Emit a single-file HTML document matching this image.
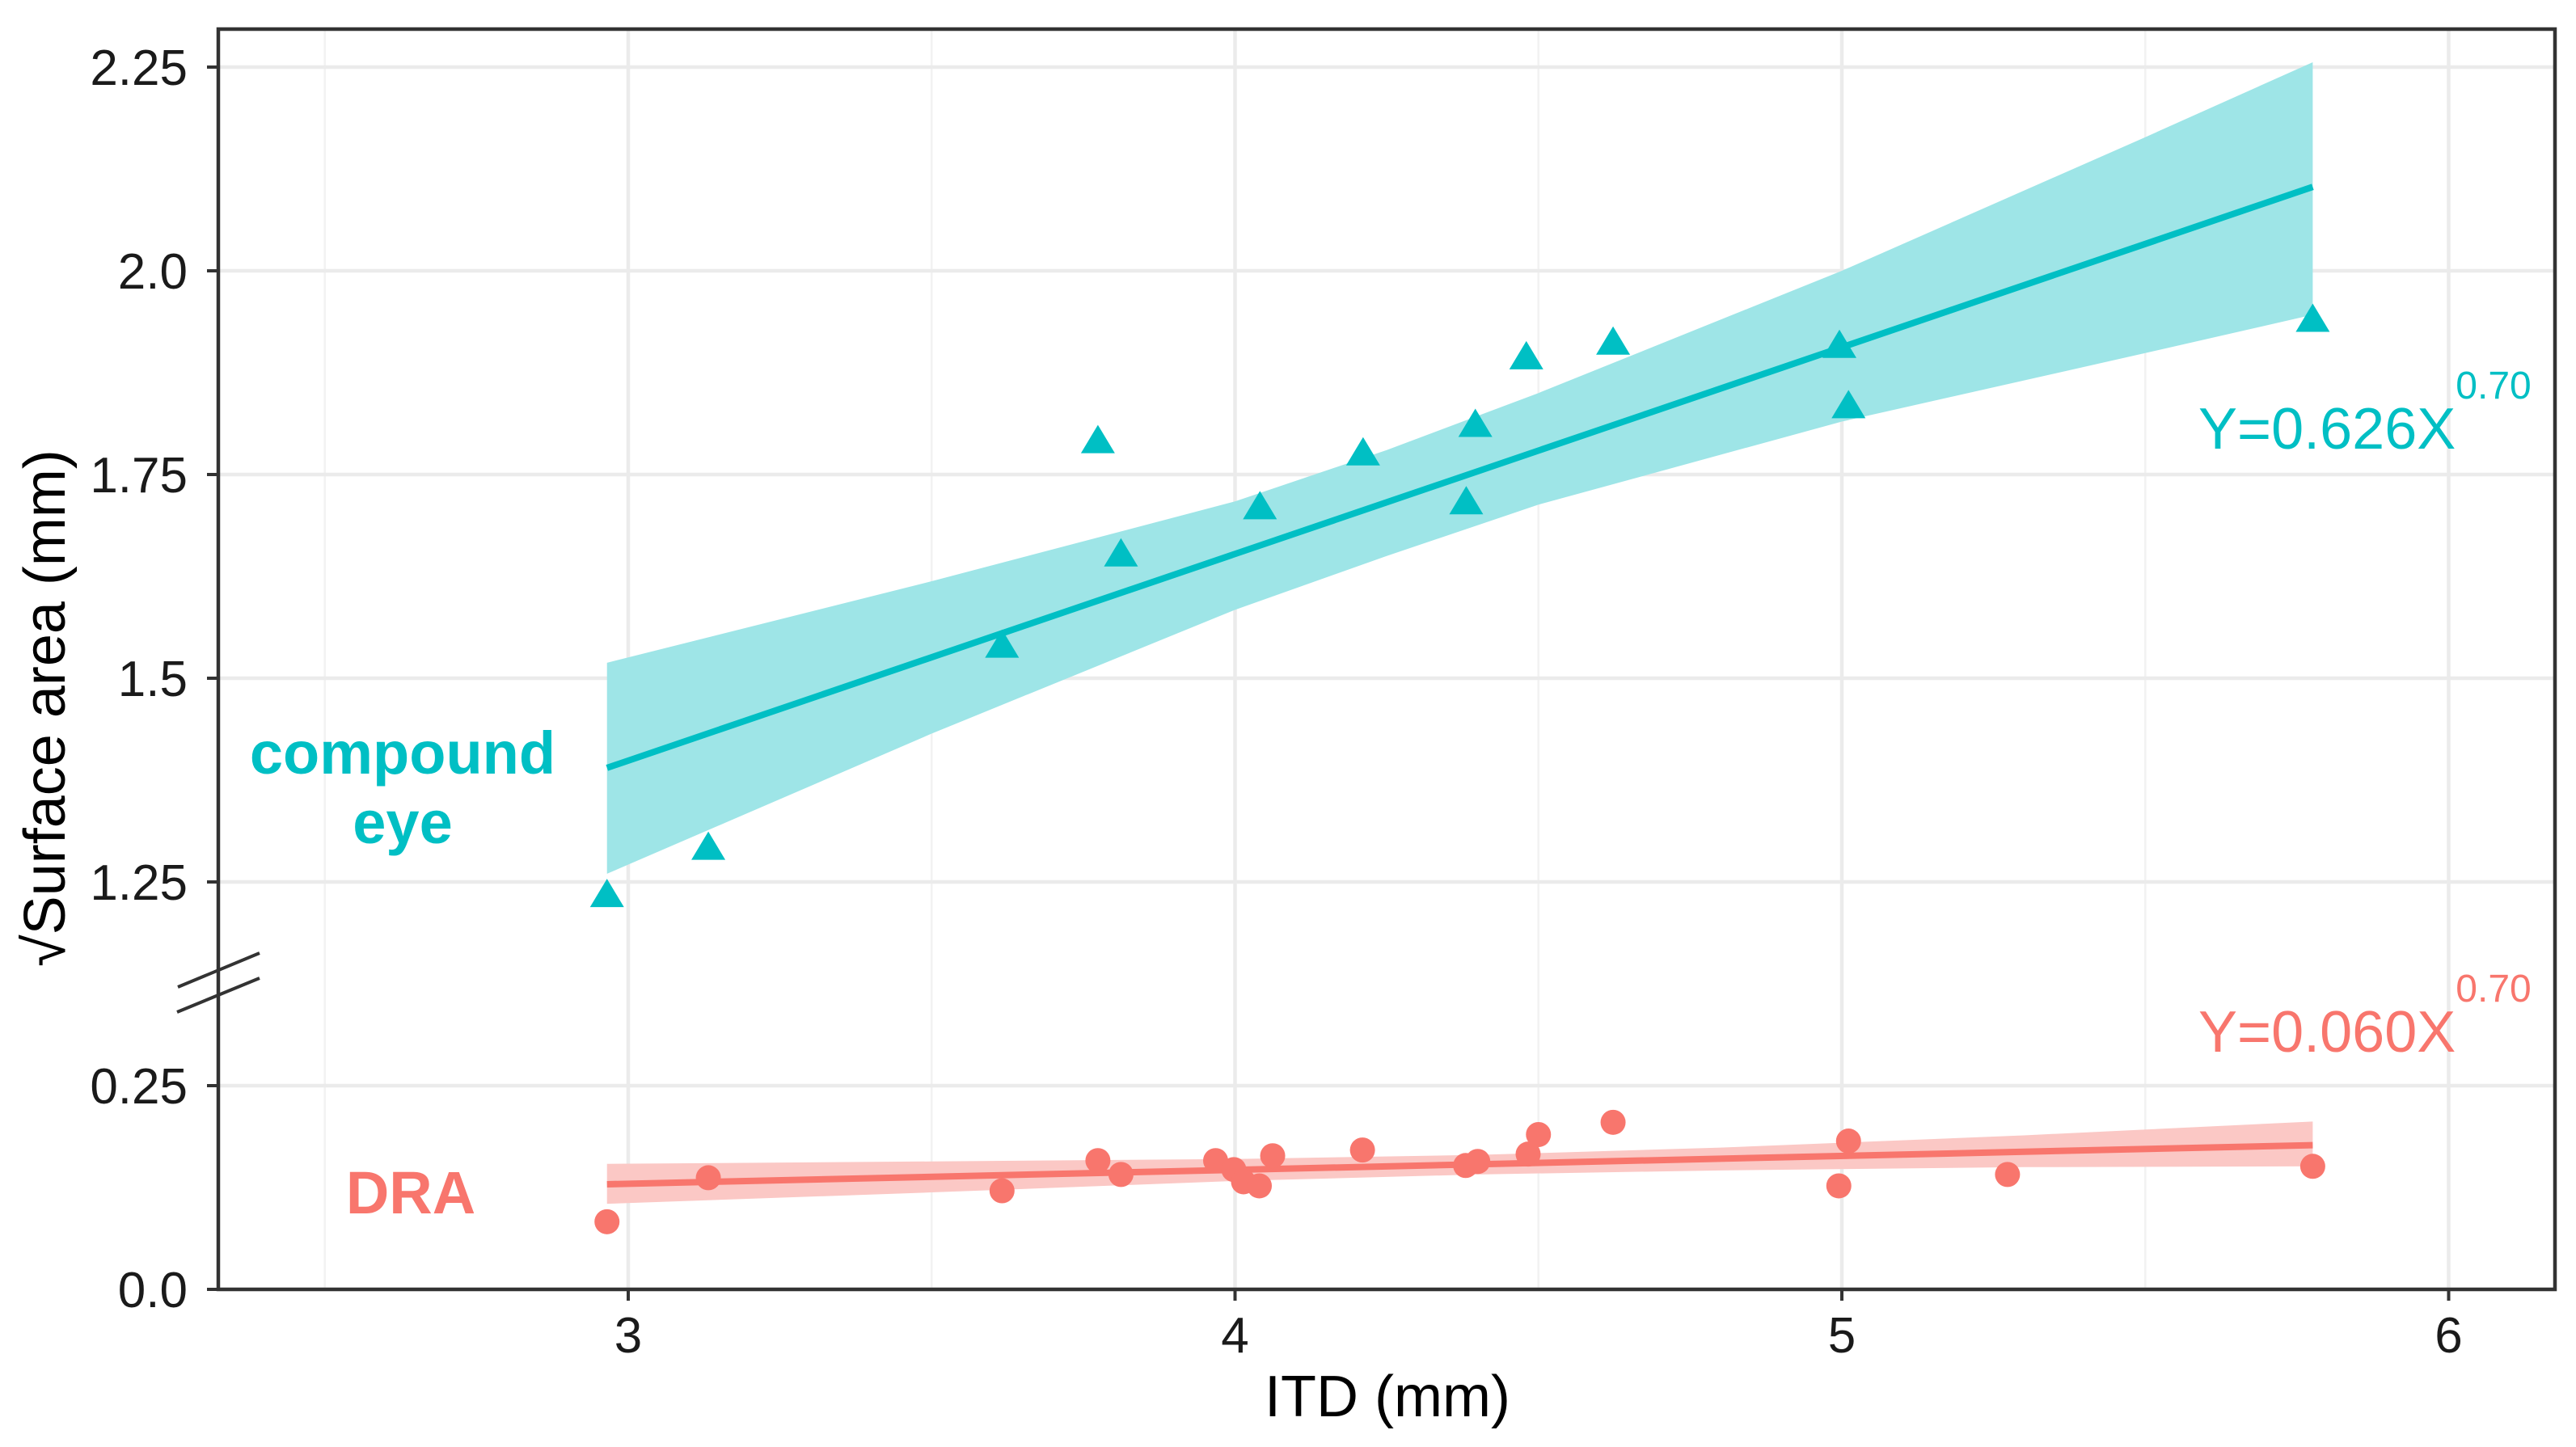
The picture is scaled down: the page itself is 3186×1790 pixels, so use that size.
<!DOCTYPE html>
<html><head><meta charset="utf-8"><style>
html,body{margin:0;padding:0;background:#fff;}
svg{display:block;font-family:"Liberation Sans",sans-serif;}
</style></head><body>
<svg id="chart" width="3186" height="1790" viewBox="0 0 3186 1790" xmlns="http://www.w3.org/2000/svg">
<rect x="0" y="0" width="3186" height="1790" fill="#fff"/>
<g id="grid"></g>
<g id="bands"></g>
<g id="lines"></g>
<g id="points"></g>
<g id="axes"></g>
<text x="498" y="957" font-size="74" font-weight="bold" fill="#00BFC4" text-anchor="middle">compound</text>
<text x="498" y="1043" font-size="74" font-weight="bold" fill="#00BFC4" text-anchor="middle">eye</text>
<text x="508" y="1501" font-size="74" font-weight="bold" fill="#F8766D" text-anchor="middle">DRA</text>
<text x="2719" y="555" font-size="72" fill="#00BFC4">Y=0.626X<tspan font-size="48" dy="-62">0.70</tspan></text>
<text x="2719" y="1301" font-size="72" fill="#F8766D">Y=0.060X<tspan font-size="48" dy="-62">0.70</tspan></text>
<text x="1716" y="1752" font-size="72" fill="#000" text-anchor="middle">ITD (mm)</text>
<text transform="translate(80,876) rotate(-90)" font-size="72" fill="#000" text-anchor="middle">√Surface area (mm)</text>
</svg>
<script>
// ---- data ----
const eyeX = [2.965,3.132,3.616,3.774,3.812,4.041,4.211,4.381,4.396,4.48,4.623,4.996,5.011,5.776];
const eyeY = [1.234,1.292,1.540,1.791,1.652,1.710,1.776,1.716,1.811,1.894,1.912,1.908,1.834,1.940];
const draX = [2.965,3.132,3.616,3.774,3.812,3.968,3.998,4.014,4.04,4.062,4.21,4.38,4.40,4.483,4.50,4.623,4.995,5.011,5.273,5.776];
const draY = [0.083,0.137,0.121,0.158,0.141,0.158,0.147,0.132,0.127,0.164,0.171,0.152,0.157,0.166,0.190,0.205,0.127,0.182,0.141,0.151];
const eyeFitX = [2.965,5.776];
const eyeFitY = [1.390,2.103];
const eyeBandX = [2.965,3.5,4.0,4.25,4.5,5.0,5.5,5.776];
const eyeBandHi = [1.519,1.619,1.717,1.780,1.850,2.000,2.164,2.256];
const eyeBandLo = [1.260,1.432,1.584,1.650,1.713,1.815,1.899,1.946];
const draFitX = [2.965,5.776];
const draFitY = [0.129,0.177];
const draBandX = [2.965,3.5,4.0,4.4,4.8,5.3,5.776];
const draBandHi = [0.154,0.157,0.160,0.165,0.174,0.189,0.206];
const draBandLo = [0.105,0.119,0.133,0.141,0.146,0.150,0.151];
const xTicks = [3,4,5,6];
const xMinor = [2.5,3.5,4.5,5.5];
const yTicks = [0,0.25,1.25,1.5,1.75,2.0,2.25];
const yTickLabels = ["0.0","0.25","1.25","1.5","1.75","2.0","2.25"];

// ---- scales ----
const L=270,R=3160,T=36,B=1595;
function sx(v){return 777+(v-3)*750.5;}
function sy(v){const p = v<=0.25 ? v/0.25 : v/0.25-3; return 1595-p*252;}
const NS="http://www.w3.org/2000/svg";
function mk(tag,attrs,parent){const e=document.createElementNS(NS,tag);for(const k in attrs)e.setAttribute(k,attrs[k]);parent.appendChild(e);return e;}
const grid=document.getElementById('grid'),bands=document.getElementById('bands'),lines=document.getElementById('lines'),pts=document.getElementById('points'),axes=document.getElementById('axes');

xMinor.forEach(v=>{const e=mk('line',{x1:sx(v),x2:sx(v),y1:T,y2:B,stroke:'#F2F2F2','stroke-width':2.5},grid);

});
xTicks.forEach(v=>{const e=mk('line',{x1:sx(v),x2:sx(v),y1:T,y2:B,stroke:'#EBEBEB','stroke-width':4.5},grid);

});
yTicks.forEach(v=>{const e=mk('line',{x1:L,x2:R,y1:sy(v),y2:sy(v),stroke:'#EBEBEB','stroke-width':4.5},grid);

});

function band(xs,hi,lo,fill,name){
  let d='M'+xs.map((x,i)=>sx(x)+','+sy(hi[i])).join(' L');
  for(let i=xs.length-1;i>=0;i--) d+=' L'+sx(xs[i])+','+sy(lo[i]);
  d+='Z';
  const e=mk('path',{d:d,fill:fill},bands);
  
  
}
band(eyeBandX,eyeBandHi,eyeBandLo,'#9EE5E7','compound-eye-ci-band');
band(draBandX,draBandHi,draBandLo,'#FBC8C5','dra-ci-band');

const l1=mk('line',{x1:sx(eyeFitX[0]),y1:sy(eyeFitY[0]),x2:sx(eyeFitX[1]),y2:sy(eyeFitY[1]),stroke:'#00BFC4','stroke-width':8},lines);


const l2=mk('line',{x1:sx(draFitX[0]),y1:sy(draFitY[0]),x2:sx(draFitX[1]),y2:sy(draFitY[1]),stroke:'#F8766D','stroke-width':8},lines);



eyeX.forEach((x,i)=>{const cx=sx(x),cy=sy(eyeY[i]);
 const e=mk('polygon',{points:(cx-21)+','+(cy+15)+' '+(cx+21)+','+(cy+15)+' '+cx+','+(cy-20),fill:'#00BFC4'},pts);
 
 });
draX.forEach((x,i)=>{
 const e=mk('circle',{cx:sx(x),cy:sy(draY[i]),r:15.5,fill:'#F8766D'},pts);
 
 });

// panel border
const br=mk('rect',{x:L,y:T,width:R-L,height:B-T,fill:'none',stroke:'#333','stroke-width':4.5},axes);


yTicks.forEach((v,i)=>{
 const t=mk('line',{x1:L-14,x2:L,y1:sy(v),y2:sy(v),stroke:'#333','stroke-width':4},axes);
 
 
 const tx=mk('text',{x:232,y:sy(v)+22,'font-size':62,'text-anchor':'end',fill:'#1a1a1a'},axes);
 tx.textContent=yTickLabels[i];
 
 });
xTicks.forEach(v=>{
 const t=mk('line',{x1:sx(v),x2:sx(v),y1:B,y2:B+14,stroke:'#333','stroke-width':4},axes);
 
 
 const tx=mk('text',{x:sx(v),y:1673,'font-size':62,'text-anchor':'middle',fill:'#1a1a1a'},axes);
 tx.textContent=String(v);
 
 });
// axis break marks
[[220,1221,321,1179],[219,1252,321,1210]].forEach(c=>{
 const e=mk('line',{x1:c[0],y1:c[1],x2:c[2],y2:c[3],stroke:'#333','stroke-width':4},axes);
 
 });
</script>
</body></html>
